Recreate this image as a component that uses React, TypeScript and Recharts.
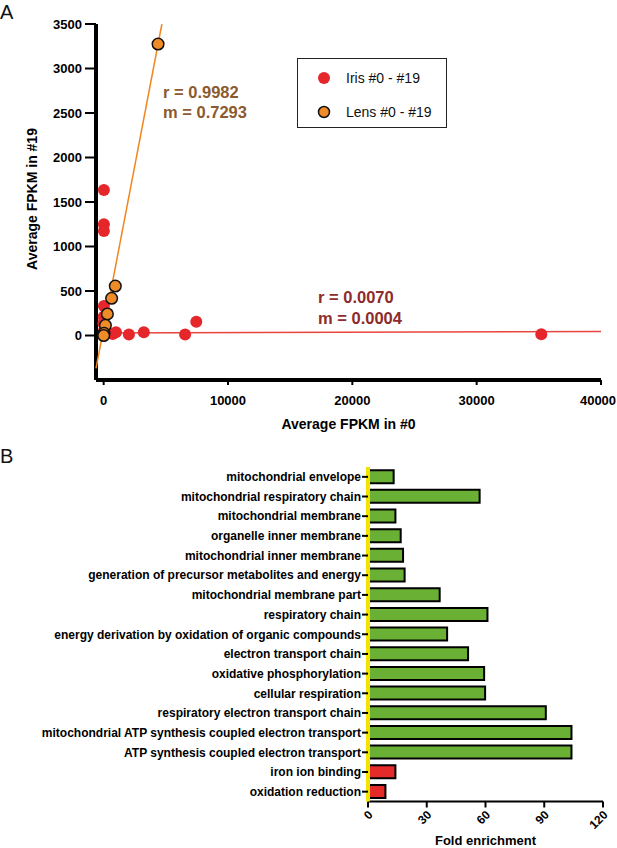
import React from 'react';
import { ScatterChart, Scatter, XAxis, YAxis, BarChart, Bar, Cell, Legend } from 'recharts';

const FONT = '"Liberation Sans", Arial, Helvetica, sans-serif';

// ---------- Panel A data ----------
const irisPoints = [
  { x: 20, y: 1635 },
  { x: 20, y: 1250 },
  { x: 20, y: 1174 },
  { x: 20, y: 331 },
  { x: 0, y: 211 },
  { x: -20, y: 137 },
  { x: 30, y: 55 },
  { x: 20, y: 10 },
  { x: 720, y: 17 },
  { x: 990, y: 36 },
  { x: 2030, y: 10 },
  { x: 3230, y: 37 },
  { x: 6550, y: 12 },
  { x: 7450, y: 155 },
  { x: 35200, y: 15 },
];
const lensPoints = [
  { x: 4376, y: 3275 },
  { x: 936, y: 556 },
  { x: 640, y: 418 },
  { x: 300, y: 242 },
  { x: 140, y: 115 },
  { x: 30, y: 25 },
  { x: 0, y: 0 },
];
const irisFit = [
  { x: -400, y: 28 },
  { x: 40000, y: 44 },
];
const lensFit = [
  { x: -616, y: -370 },
  { x: 4684, y: 3500 },
];
const fpkmXTicks = [0, 10000, 20000, 30000, 40000];
const fpkmYTicks = [0, 500, 1000, 1500, 2000, 2500, 3000, 3500];
const legendLabels = ['Iris #0 - #19', 'Lens #0 - #19'];
const lensStats = ['r = 0.9982', 'm = 0.7293'];
const irisStats = ['r = 0.0070', 'm = 0.0004'];

// ---------- Panel B data ----------
const goTerms = [
  'mitochondrial envelope',
  'mitochondrial respiratory chain',
  'mitochondrial membrane',
  'organelle inner membrane',
  'mitochondrial inner membrane',
  'generation of precursor metabolites and energy',
  'mitochondrial membrane part',
  'respiratory chain',
  'energy derivation by oxidation of organic compounds',
  'electron transport chain',
  'oxidative phosphorylation',
  'cellular respiration',
  'respiratory electron transport chain',
  'mitochondrial ATP synthesis coupled electron transport',
  'ATP synthesis coupled electron transport',
  'iron ion binding',
  'oxidation reduction',
];
const foldEnrichment = [13.1, 57.0, 14.0, 16.7, 17.9, 18.7, 36.6, 61.0, 40.4, 51.1, 59.3, 59.8, 90.8, 103.9, 103.9, 14.0, 8.9];
const termDirection = ['up', 'up', 'up', 'up', 'up', 'up', 'up', 'up', 'up', 'up', 'up', 'up', 'up', 'up', 'up', 'down', 'down'];
const foldTicks = [0, 30, 60, 90, 120];

const IRIS_COLOR = '#E5262A';
const LENS_COLOR = '#F08C28';
const GREEN = '#69B035';
const RED = '#E52A2A';
const YELLOW = '#F3E300';

const barData = goTerms.map((term, i) => ({ term, fold: foldEnrichment[i], dir: termDirection[i] }));

const IrisDot = (props: any) => <circle cx={props.cx} cy={props.cy} r={6} fill={IRIS_COLOR} />;
const LensDot = (props: any) => (
  <circle cx={props.cx} cy={props.cy} r={5.8} fill={LENS_COLOR} stroke="#111" strokeWidth={1.5} />
);
const NoDot = () => <g />;

const YLabelA = (props: any) => {
  const vb = props.viewBox || {};
  const cx = 32;
  const cy = vb.y + vb.height / 2 - 3;
  return (
    <text
      x={cx}
      y={cy}
      transform={`rotate(-90 ${cx} ${cy})`}
      textAnchor="middle"
      dominantBaseline="central"
      fontFamily={FONT}
      fontWeight="bold"
      fontSize={14}
      fill="#000"
    >
      Average FPKM in #19
    </text>
  );
};

const FpkmXTick = (props: any) => {
  const { x, y, payload } = props;
  const half = 18;
  const cx = Math.min(x, 616 - half);
  return (
    <text
      x={cx}
      y={y}
      dy="0.71em"
      textAnchor="middle"
      fontFamily={FONT}
      fontWeight="bold"
      fontSize={13}
      fill="#000"
    >
      {payload.value}
    </text>
  );
};

const LegendBox = () => (
  <div
    style={{
      width: 150,
      height: 70,
      border: '1.5px solid #222',
      boxSizing: 'border-box',
      fontFamily: FONT,
      fontSize: 14,
      position: 'relative',
      background: '#fff',
    }}
  >
    {legendLabels.map((lab, i) => (
      <div key={lab} style={{ position: 'absolute', left: 0, top: 10 + i * 34, height: 18, width: 150 }}>
        <svg width={20} height={18} style={{ position: 'absolute', left: 16, top: 0 }}>
          {i === 0 ? (
            <circle cx={10} cy={9} r={6} fill={IRIS_COLOR} />
          ) : (
            <circle cx={10} cy={9} r={5.5} fill={LENS_COLOR} stroke="#111" strokeWidth={1.5} />
          )}
        </svg>
        <span style={{ position: 'absolute', left: 48, top: 0, lineHeight: '18px', color: '#111' }}>{lab}</span>
      </div>
    ))}
  </div>
);

const FoldTick = (props: any) => {
  const { x, y, payload } = props;
  const ax = x + 2.4;
  const ay = y + 5;
  return (
    <text
      x={ax}
      y={ay}
      dy="0.35em"
      transform={`rotate(-45 ${ax} ${ay})`}
      textAnchor="end"
      fontFamily={FONT}
      fontWeight="bold"
      fontSize={12}
      fill="#000"
    >
      {payload.value}
    </text>
  );
};

const statStyle = (color: string, left: number, top: number): React.CSSProperties => ({
  position: 'absolute',
  left,
  top,
  fontFamily: FONT,
  fontWeight: 'bold',
  fontSize: 16.5,
  lineHeight: '20px',
  color,
  whiteSpace: 'pre',
});

export default function App() {
  return (
    <div style={{ position: 'absolute', left: 0, top: 0, width: 617, height: 848, background: '#fff', overflow: 'hidden' }}>
      <div style={{ position: 'absolute', left: 0, top: 0 }}>
        <ScatterChart width={617} height={440} margin={{ top: 24, right: 16, bottom: 10, left: 0 }}>
          <XAxis
            type="number"
            dataKey="x"
            domain={[-400, 40000]}
            ticks={fpkmXTicks}
            interval={0}
            height={50}
            axisLine={{ stroke: '#000', strokeWidth: 4 }}
            tickLine={{ stroke: '#000', strokeWidth: 2 }}
            tickSize={5}
            tickMargin={11}
            tick={<FpkmXTick />}
            label={{
              value: 'Average FPKM in #0',
              position: 'insideBottom',
              offset: 1,
              style: { fill: '#000', fontFamily: FONT, fontWeight: 'bold', fontSize: 14 },
            }}
          />
          <YAxis
            type="number"
            dataKey="y"
            domain={[-500, 3500]}
            ticks={fpkmYTicks}
            interval={0}
            width={96}
            axisLine={{ stroke: '#000', strokeWidth: 4 }}
            tickLine={{ stroke: '#000', strokeWidth: 2 }}
            tickSize={11}
            tickMargin={3}
            tick={{ fill: '#000', fontFamily: FONT, fontWeight: 'bold', fontSize: 13 }}
            label={<YLabelA />}
          />
          <Scatter data={irisFit} line={{ stroke: '#E8453E', strokeWidth: 1.5 }} shape={NoDot} legendType="none" isAnimationActive={false} />
          <Scatter data={lensFit} line={{ stroke: '#F0871E', strokeWidth: 1.5 }} shape={NoDot} legendType="none" isAnimationActive={false} />
          <Scatter name={legendLabels[0]} data={irisPoints} fill={IRIS_COLOR} shape={IrisDot} isAnimationActive={false} />
          <Scatter name={legendLabels[1]} data={lensPoints} fill={LENS_COLOR} shape={LensDot} isAnimationActive={false} />
          <Legend
            layout="vertical"
            align="center"
            verticalAlign="middle"
            content={() => <LegendBox />}
            wrapperStyle={{ left: 297, top: 58, width: 150, height: 70 }}
          />
        </ScatterChart>
      </div>

      <div style={{ position: 'absolute', left: 0, top: 420 }}>
        <BarChart
          layout="vertical"
          width={617}
          height={428}
          data={barData}
          margin={{ top: 47, right: 14, bottom: 0, left: 0 }}
          barCategoryGap="16%"
        >
          <XAxis
            type="number"
            dataKey="fold"
            domain={[0, 120]}
            ticks={foldTicks}
            interval={0}
            height={46.5}
            axisLine={{ stroke: '#000', strokeWidth: 2 }}
            tickLine={{ stroke: '#000', strokeWidth: 2 }}
            tickSize={6}
            tickMargin={0}
            tick={<FoldTick />}
            label={{
              value: 'Fold enrichment',
              position: 'insideBottom',
              offset: 3,
              style: { fill: '#000', fontFamily: FONT, fontWeight: 'bold', fontSize: 13 },
            }}
          />
          <YAxis
            type="category"
            dataKey="term"
            width={368}
            interval={0}
            axisLine={{ stroke: YELLOW, strokeWidth: 4 }}
            tickLine={{ stroke: '#000', strokeWidth: 2 }}
            tickSize={6}
            tickMargin={1}
            tick={{ fill: '#000', fontFamily: FONT, fontWeight: 'bold', fontSize: 12 }}
          />
          <Bar dataKey="fold" stroke="#000" strokeWidth={2} isAnimationActive={false}>
            {barData.map((d) => (
              <Cell key={d.term} fill={d.dir === 'up' ? GREEN : RED} />
            ))}
          </Bar>
        </BarChart>
      </div>

      <div style={{ position: 'absolute', left: 0, top: 1, fontFamily: FONT, fontSize: 20, color: '#111' }}>A</div>
      <div style={{ position: 'absolute', left: 0, top: 445, fontFamily: FONT, fontSize: 20, color: '#111' }}>B</div>

      <div style={statStyle('#8B5A2E', 163, 82)}>{lensStats[0]}</div>
      <div style={statStyle('#8B5A2E', 163, 102)}>{lensStats[1]}</div>
      <div style={statStyle('#8E2B2B', 318, 287)}>{irisStats[0]}</div>
      <div style={statStyle('#8E2B2B', 318, 308)}>{irisStats[1]}</div>
    </div>
  );
}
